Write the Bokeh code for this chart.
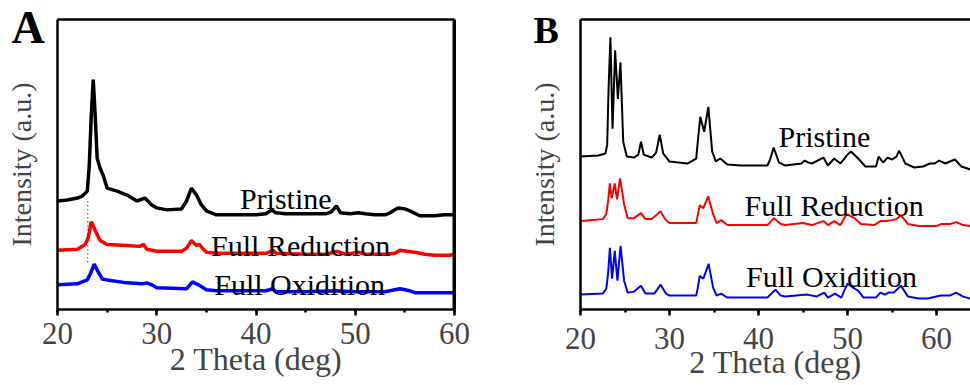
from bokeh.plotting import figure
from bokeh.models import Range1d, Label, SingleIntervalTicker, FixedTicker, LinearAxis, Title, Span
from bokeh.layouts import row
from bokeh.embed import file_html
from bokeh.resources import INLINE

FONT = "Liberation Serif"

# ---------------- Panel A data (arbitrary intensity, offset curves) ----------------
a_black_x = [20, 21, 22, 22.5, 23, 23.2, 23.4, 23.6, 23.8, 24.0, 24.3, 24.6, 25, 26, 27, 28, 28.8, 29.5, 30, 31,
             32.5, 33, 33.5, 34, 34.5, 35, 36, 38, 40, 41, 41.6, 42, 43, 45, 47, 47.6, 48.1, 48.5, 49.5, 50.3,
             51, 52, 53, 53.5, 54.3, 55, 55.5, 56.5, 58, 59, 60]
a_black_y = [110, 111, 113, 115, 120, 146, 196, 233, 196, 153, 143, 136, 123, 120, 116, 110, 113, 106, 103, 101,
             102, 110, 123, 116, 106, 100, 96, 96, 96, 97, 101, 98, 97, 97, 97, 99, 105, 98, 97, 98,
             97, 96, 96, 98, 103, 102, 100, 95, 95, 96, 96]

a_red_x = [20, 22, 22.8, 23.1, 23.4, 23.6, 23.8, 24.3, 25, 27, 28.3, 28.7, 29, 30, 32.5, 33, 33.5, 34, 34.3, 34.7,
           35, 36, 41, 41.7, 42, 45, 47, 48.2, 49, 50.4, 51, 53, 54, 54.5, 55.2, 56, 57, 58, 59.5, 60]
a_red_y = [60, 61, 66, 73, 89, 85, 80, 70, 66, 65, 64, 66, 61, 59, 59, 62, 70, 65, 66, 61,
           58, 57, 57, 60, 57, 56, 56, 59, 56, 58, 56, 56, 57, 60, 59, 58, 56, 55, 55, 56]

a_blue_x = [20, 22, 23, 23.3, 23.7, 24, 24.5, 25, 27, 28.5, 29, 29.5, 30, 33, 33.6, 34.2, 35, 36, 41, 41.7,
            42, 45, 48, 50, 53, 54.5, 55.5, 56, 60]
a_blue_y = [25, 26, 30, 36, 46, 40, 31, 30, 27, 26, 27, 25, 22, 21, 28, 25, 20, 19, 19, 21,
            18, 18, 19, 18, 18, 21, 19, 17, 17]

a_marker_x = [23.05, 23.05]
a_marker_y = [48, 113]

# ---------------- Panel B data ----------------
b_black_x = [20, 22, 22.8, 23.0, 23.15, 23.36, 23.6, 23.89, 24.2, 24.49, 24.8, 25.2, 26, 26.5, 26.8, 27.1, 28,
             28.5, 28.9, 29.3, 30, 32, 33.0, 33.2, 33.46, 33.9, 34.36, 34.8, 35.2, 35.7, 36.5, 38, 41, 41.3,
             41.7, 42.3, 43, 44.8, 45.2, 45.6, 46, 47.3, 47.8, 48.5, 49.2, 50, 50.4, 51.2, 52, 53.2, 53.5, 54,
             54.5, 55, 55.5, 55.8, 56.5, 57.5, 58.5, 59.25, 59.8, 60.3, 61, 61.5, 62.06, 62.8, 63.8]
b_black_y = [153, 154, 156, 165, 220, 273, 181, 260, 211, 248, 168, 153, 152, 155, 168, 155, 152,
             157, 175, 156, 148, 146, 151, 170, 193, 178, 203, 158, 148, 151, 145, 144, 144, 150,
             162, 147, 144, 146, 149, 147, 146, 152, 144, 151, 146, 155, 158, 151, 143, 143, 153, 147,
             152, 150, 153, 159, 146, 142, 143, 146, 146, 149, 146, 148, 150, 143, 140]

b_red_x = [20, 22.5, 22.9, 23.1, 23.3, 23.5, 23.85, 24.1, 24.45, 24.9, 25.3, 26, 26.8, 27.3, 28, 29.0, 29.5,
           30, 33, 33.2, 33.4, 33.8, 34.35, 34.9, 35.3, 35.8, 36.5, 41, 41.75, 42.5, 43, 45, 46, 47.3, 47.8,
           48.5, 49.2, 49.9, 50.8, 51.5, 53, 53.7, 54.3, 55, 55.5, 56.0, 56.8, 58, 60, 60.5, 61.5, 62.2, 63,
           63.8]
b_red_y = [88, 90, 95, 108, 126, 111, 126, 110, 131, 105, 91, 91, 96, 90, 90, 98, 90,
           86, 86, 95, 104, 101, 113, 95, 86, 89, 84, 84, 91, 85, 84, 86, 84, 88, 84,
           88, 84, 95, 91, 85, 84, 88, 88, 89, 90, 94, 85, 83, 83, 85, 85, 87, 84,
           83]

b_blue_x = [20, 22.5, 22.9, 23.1, 23.3, 23.55, 23.85, 24.15, 24.5, 24.9, 25.3, 26, 26.8, 27.3, 28.3, 29.0,
            29.6, 30, 33, 33.2, 33.4, 33.8, 34.4, 34.9, 35.3, 35.8, 36.5, 41, 41.9, 42.5, 43, 45.5, 46.5,
            47.4, 47.8, 48.6, 49.3, 50.0, 50.8, 51.2, 51.8, 53.2, 53.7, 54.2, 54.6, 55.2, 56.0, 56.8, 58, 59,
            60.5, 61.5, 62.2, 63, 63.8]
b_blue_y = [14, 15, 20, 35, 61, 30, 58, 28, 63, 28, 16, 17, 23, 15, 15, 24,
            15, 13, 13, 22, 33, 30, 45, 21, 13, 15, 11, 11, 19, 13, 12, 14, 12,
            16, 11, 15, 11, 25, 20, 18, 11, 11, 16, 14, 16, 16, 23, 12, 10, 10,
            13, 13, 16, 12, 10]

tick_interval = 10
a_x_end = 60
y_title = "Intensity (a.u.)"
x_title = "2 Theta (deg)"
names = ["Pristine", "Full Reduction", "Full Oxidition"]
colors = ["black", "red", "blue"]
panel_letters = ["A", "B"]


def style_x_axis(p, label_standoff, title_standoff):
    ax = p.xaxis[0]
    ax.ticker = SingleIntervalTicker(interval=tick_interval, num_minor_ticks=2)
    ax.axis_label = x_title
    ax.axis_label_text_font = FONT
    ax.axis_label_text_font_style = "normal"
    ax.axis_label_text_font_size = "32px"
    ax.axis_label_standoff = title_standoff
    ax.major_label_text_font = FONT
    ax.major_label_text_font_size = "31px"
    ax.major_label_standoff = label_standoff
    ax.major_tick_in = 0
    ax.major_tick_out = 6
    ax.minor_tick_in = 0
    ax.minor_tick_out = 3
    ax.major_tick_line_width = 2.5
    ax.minor_tick_line_width = 2.5
    ax.axis_line_width = 2.5
    ax.axis_line_color = "black"


def style_y_axis(p):
    ax = p.yaxis[0]
    ax.ticker = FixedTicker(ticks=[])
    ax.axis_label = y_title
    ax.axis_label_text_font = FONT
    ax.axis_label_text_font_style = "normal"
    ax.axis_label_text_font_size = "28px"
    ax.axis_label_standoff = 21
    ax.axis_line_width = 2.5
    ax.axis_line_color = "black"
    ax.major_tick_line_color = None
    ax.minor_tick_line_color = None


def frame_line(p, side, width=2.5):
    ax = LinearAxis(ticker=FixedTicker(ticks=[]), axis_line_width=width, axis_line_color="black",
                    major_label_text_font_size="0px", major_tick_line_color=None,
                    minor_tick_line_color=None)
    p.add_layout(ax, side)


# ---------------- Panel A ----------------
pA = figure(width=480, height=385, output_backend="svg", toolbar_location=None,
            x_range=Range1d(20, a_x_end), y_range=Range1d(0, 294),
            min_border_left=57, min_border_right=26, min_border_top=19, min_border_bottom=72)
pA.xgrid.visible = False
pA.ygrid.visible = False
pA.outline_line_color = None
style_x_axis(pA, 7, -6)
style_y_axis(pA)
frame_line(pA, "above")
frame_line(pA, "right", 3)
pA.add_layout(Span(location=a_x_end, dimension="height", line_color="black", line_width=4))
pA.title = Title(text=panel_letters[0], align="left", offset=-46, standoff=-66, vertical_align="bottom",
                 text_font=FONT, text_font_size="46px", text_font_style="bold", text_color="black")

pA.line(a_black_x, a_black_y, line_color=colors[0], line_width=3.5)
pA.line(a_red_x, a_red_y, line_color=colors[1], line_width=3.5)
pA.line(a_blue_x, a_blue_y, line_color=colors[2], line_width=3.5)
pA.line(a_marker_x, a_marker_y, line_color="#333333", line_width=1.2, line_dash="1 3")

a_label_x = [43.0, 44.5, 44.4]
a_label_y = [113, 65, 25]
for t, x, y in zip(names, a_label_x, a_label_y):
    pA.add_layout(Label(x=x, y=y, text=t, text_font=FONT, text_font_size="30px",
                        text_align="center", text_baseline="alphabetic", text_color="black"))

# ---------------- Panel B ----------------
pB = figure(width=490, height=385, output_backend="svg", toolbar_location=None,
            x_range=Range1d(20, 63.82), y_range=Range1d(-1, 291),
            min_border_left=100, min_border_right=0, min_border_top=17, min_border_bottom=76)
pB.xgrid.visible = False
pB.ygrid.visible = False
pB.outline_line_color = None
style_x_axis(pB, 12, -8)
style_y_axis(pB)
frame_line(pB, "above")
pB.title = Title(text=panel_letters[1], align="left", offset=-47, standoff=-62, vertical_align="bottom",
                 text_font=FONT, text_font_size="38px", text_font_style="bold", text_color="black")

pB.line(b_black_x, b_black_y, line_color=colors[0], line_width=2)
pB.line(b_red_x, b_red_y, line_color=colors[1], line_width=2)
pB.line(b_blue_x, b_blue_y, line_color=colors[2], line_width=2)

b_label_x = [47.4, 48.5, 48.2]
b_label_y = [173, 104, 32]
for t, x, y in zip(names, b_label_x, b_label_y):
    pB.add_layout(Label(x=x, y=y, text=t, text_font=FONT, text_font_size="30px",
                        text_align="center", text_baseline="alphabetic", text_color="black"))

layout = row(pA, pB)
open("out.html", "w").write(file_html(layout, INLINE))
